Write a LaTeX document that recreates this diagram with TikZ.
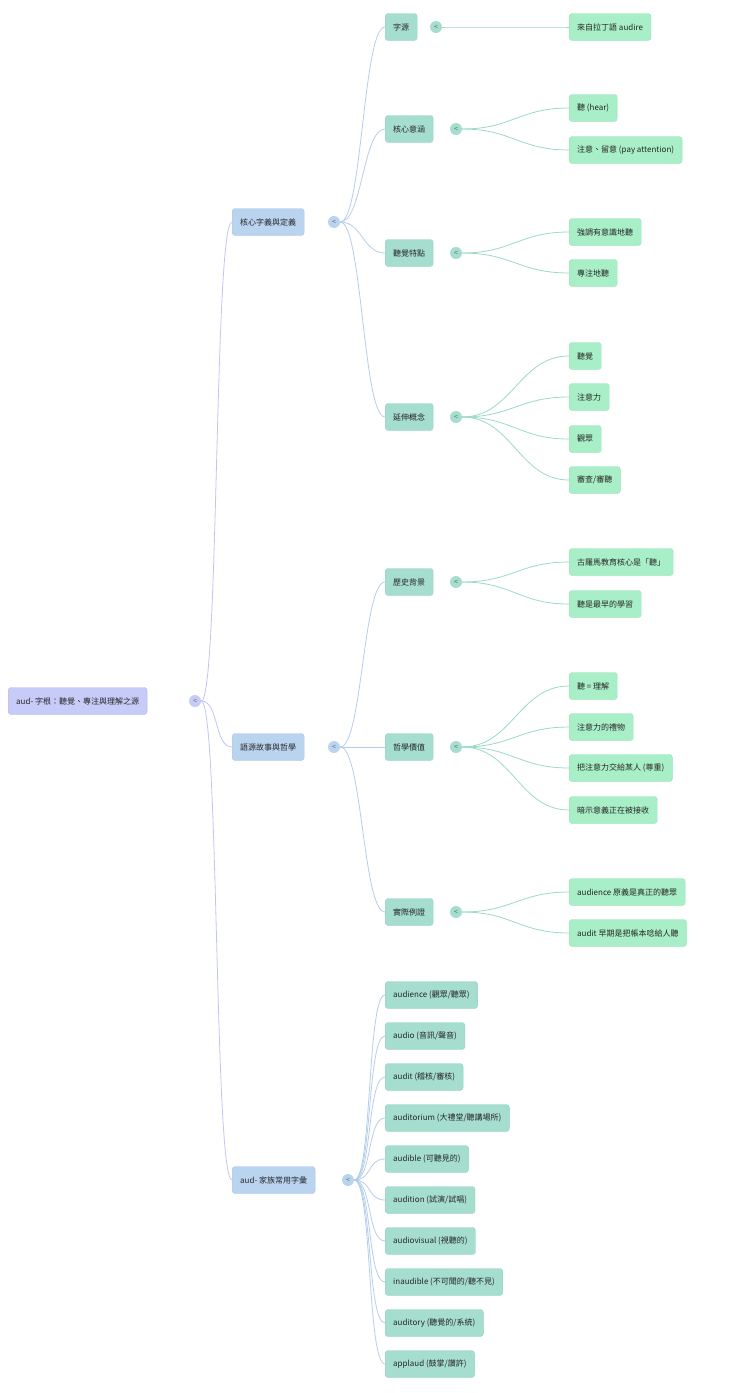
\documentclass[tikz,border=0pt]{standalone}
\usepackage{fontspec}
\setmainfont{Noto Sans CJK TC}
\definecolor{rootc}{HTML}{C7CBF8}
\definecolor{rootb}{HTML}{B4B9F0}
\definecolor{l1c}{HTML}{BAD4F0}
\definecolor{l1b}{HTML}{A8C6E8}
\definecolor{l2c}{HTML}{A5DDCE}
\definecolor{l2b}{HTML}{92D2C0}
\definecolor{lfc}{HTML}{A8EEC6}
\definecolor{lfb}{HTML}{92E2B4}
\definecolor{e0}{HTML}{C0C6F2}
\definecolor{e1}{HTML}{B4CEEA}
\definecolor{e2}{HTML}{9CD9C6}
\begin{document}
\begin{tikzpicture}[x=1pt,y=-1pt,
  box/.style={anchor=west,rounded corners=3pt,minimum height=27pt,inner xsep=8pt,font=\fontsize{8}{10}\selectfont,text=black!85},
  root/.style={box,fill=rootc,draw=rootb},
  l1/.style={box,fill=l1c,draw=l1b},
  l2/.style={box,fill=l2c,draw=l2b},
  lf/.style={box,fill=lfc,draw=lfb},
  tog/.style={circle,minimum size=12pt,inner sep=0pt,font=\fontsize{7}{8}\selectfont,text=black!60},
  e/.style={line width=0.8pt}]
\useasboundingbox (0,0) rectangle (740,1393);
\node[root] (r) at (8,701) {aud- 字根：聽覺、專注與理解之源};
\node[tog,fill=rootc] (rt) at (195,701) {<};
\node[l1] (a) at (232,222) {核心字義與定義};
\node[l1] (b) at (232,747) {語源故事與哲學};
\node[l1] (c) at (232,1180) {aud- 家族常用字彙};
\node[tog,fill=l1c] (at) at (334,222) {<};
\node[tog,fill=l1c] (bt) at (334,747) {<};
\node[tog,fill=l1c] (ct) at (348,1180) {<};
\foreach \n in {a,b,c} \draw[e,e0] (rt.east) .. controls +(18,0) and +(-18,0) .. (\n.west);
\node[l2] (a1) at (385,27) {字源};
\node[l2] (a2) at (385,129) {核心意涵};
\node[l2] (a3) at (385,253) {聽覺特點};
\node[l2] (a4) at (385,417) {延伸概念};
\node[l2] (b1) at (385,582) {歷史背景};
\node[l2] (b2) at (385,747) {哲學價值};
\node[l2] (b3) at (385,912) {實際例證};
\foreach \n in {a1,a2,a3,a4} \draw[e,e1] (at.east) .. controls +(22,0) and +(-22,0) .. (\n.west);
\foreach \n in {b1,b2,b3} \draw[e,e1] (bt.east) .. controls +(22,0) and +(-22,0) .. (\n.west);
\node[tog,fill=l2c] (a1t) at (436,27) {<};
\node[tog,fill=l2c] (a2t) at (456,129) {<};
\node[tog,fill=l2c] (a3t) at (456,253) {<};
\node[tog,fill=l2c] (a4t) at (456,417) {<};
\node[tog,fill=l2c] (b1t) at (456,582) {<};
\node[tog,fill=l2c] (b2t) at (456,747) {<};
\node[tog,fill=l2c] (b3t) at (456,912) {<};
\foreach \t [count=\i] in {audience (觀眾/聽眾),audio (音訊/聲音),audit (稽核/審核),auditorium (大禮堂/聽講場所),audible (可聽見的),audition (試演/試唱),audiovisual (視聽的),inaudible (不可聞的/聽不見),auditory (聽覺的/系統),applaud (鼓掌/讚許)}{
  \node[l2] (c\i) at (385,954+41*\i) {\t};
  \draw[e,e1] (ct.east) .. controls +(18,0) and +(-18,0) .. (c\i.west);
}
\node[lf] (x1) at (569,27) {來自拉丁語 audire};
\node[lf] (x2) at (569,108) {聽 (hear)};
\node[lf] (x3) at (569,150) {注意、留意 (pay attention)};
\node[lf] (x4) at (569,232) {強調有意識地聽};
\node[lf] (x5) at (569,273) {專注地聽};
\node[lf] (x6) at (569,356) {聽覺};
\node[lf] (x7) at (569,397) {注意力};
\node[lf] (x8) at (569,439) {觀眾};
\node[lf] (x9) at (569,480) {審查/審聽};
\node[lf] (y1) at (569,562) {古羅馬教育核心是「聽」};
\node[lf] (y2) at (569,604) {聽是最早的學習};
\node[lf] (y3) at (569,686) {聽 = 理解};
\node[lf] (y4) at (569,727) {注意力的禮物};
\node[lf] (y5) at (569,768) {把注意力交給某人 (尊重)};
\node[lf] (y6) at (569,810) {暗示意義正在被接收};
\node[lf] (y7) at (569,892) {audience 原義是真正的聽眾};
\node[lf] (y8) at (569,933) {audit 早期是把帳本唸給人聽};
\def\lk#1#2{\draw[e,e2] (#1.east) .. controls +(50,0) and +(-50,0) .. (#2.west);}
\lk{a1t}{x1}
\lk{a2t}{x2}\lk{a2t}{x3}
\lk{a3t}{x4}\lk{a3t}{x5}
\lk{a4t}{x6}\lk{a4t}{x7}\lk{a4t}{x8}\lk{a4t}{x9}
\lk{b1t}{y1}\lk{b1t}{y2}
\lk{b2t}{y3}\lk{b2t}{y4}\lk{b2t}{y5}\lk{b2t}{y6}
\lk{b3t}{y7}\lk{b3t}{y8}
\end{tikzpicture}
\end{document}
